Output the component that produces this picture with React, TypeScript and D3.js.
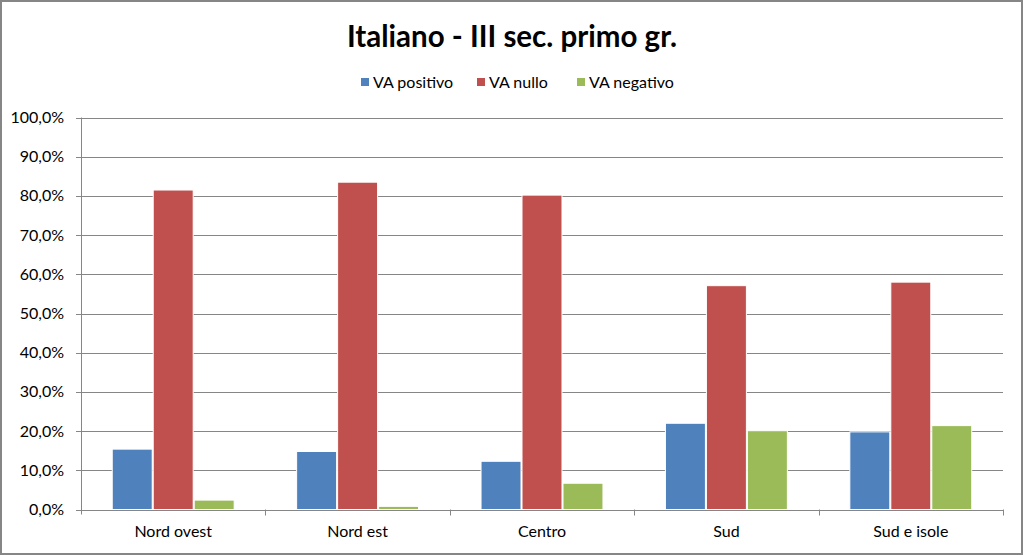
import React from "react";
import * as d3 from "d3";

const categories = ["Nord ovest", "Nord est", "Centro", "Sud", "Sud e isole"];
const seriesNames = ["VA positivo", "VA nullo", "VA negativo"];
const vaPositivo = [15.4, 14.8, 12.3, 22.0, 19.8];
const vaNullo = [81.5, 83.5, 80.2, 57.1, 58.0];
const vaNegativo = [2.4, 0.8, 6.7, 20.1, 21.4];
const yTicks = [0, 10, 20, 30, 40, 50, 60, 70, 80, 90, 100];
const colors = ["#4F81BD", "#C0504D", "#9BBB59"];
const title = "Italiano - III sec. primo gr.";

const W = 1023;
const H = 555;
const left = 81;
const right = 1003;
const top = 117.5;
const bottom = 509.5;
const font = "Lato, 'Open Sans', sans-serif";

export default function App() {
  const series = [vaPositivo, vaNullo, vaNegativo];
  const x0 = d3.scaleBand<string>().domain(categories).range([left, right]).paddingInner(0).paddingOuter(0);
  const gw = x0.bandwidth();
  const barW = gw / 4.5;
  const x1 = d3
    .scaleBand<string>()
    .domain(seriesNames)
    .range([barW * 0.75, barW * 0.75 + barW * 3]);
  const y = d3.scaleLinear().domain([0, 100]).range([bottom, top]);
  const fmt = (v: number) => v.toFixed(1).replace(".", ",") + "%";

  const legendItems = [
    { name: seriesNames[0], x: 361 },
    { name: seriesNames[1], x: 477 },
    { name: seriesNames[2], x: 577 },
  ];

  return (
    <svg
      width={W}
      height={H}
      style={{ position: "absolute", left: 0, top: 0, background: "#fff" }}
      fontFamily={font}
    >
      <rect x={1} y={1} width={W - 2} height={H - 2} fill="#fff" stroke="#868686" strokeWidth={2} />
      <text x={512} y={47} textAnchor="middle" fontSize={29.5} fontWeight="bold" fill="#000">
        {title}
      </text>
      {legendItems.map((l, i) => (
        <g key={l.name}>
          <rect x={l.x} y={78} width={8} height={8} fill={colors[i]} />
          <text x={l.x + 12} y={88} fontSize={16} fill="#000">
            {l.name}
          </text>
        </g>
      ))}
      {yTicks.map((t) => (
        <g key={t}>
          <line x1={left - 5} x2={right} y1={Math.round(y(t)) + 0.5} y2={Math.round(y(t)) + 0.5} stroke="#868686" strokeWidth={1} />
          <text x={64} y={y(t) + 5.5} textAnchor="end" fontSize={16} fill="#000">
            {fmt(t)}
          </text>
        </g>
      ))}
      <line x1={left + 0.5} x2={left + 0.5} y1={top} y2={bottom + 5} stroke="#868686" strokeWidth={1} />
      {categories.map((c) => (
        <line
          key={"tk" + c}
          x1={Math.round((x0(c) as number) + gw) + 0.5}
          x2={Math.round((x0(c) as number) + gw) + 0.5}
          y1={bottom}
          y2={bottom + 6}
          stroke="#868686"
        />
      ))}
      {categories.map((c, ci) => (
        <g key={c}>
          {series.map((s, si) => {
            const bx = (x0(c) as number) + (x1(seriesNames[si]) as number);
            const by = y(s[ci]);
            return (
              <rect
                key={si}
                x={bx + 0.5}
                y={by}
                width={barW - 1}
                height={bottom - by}
                fill={colors[si]}
                stroke="#fff"
                strokeWidth={1}
              />
            );
          })}
          <text x={(x0(c) as number) + gw / 2} y={537} textAnchor="middle" fontSize={16} fill="#000">
            {c}
          </text>
        </g>
      ))}
    </svg>
  );
}
